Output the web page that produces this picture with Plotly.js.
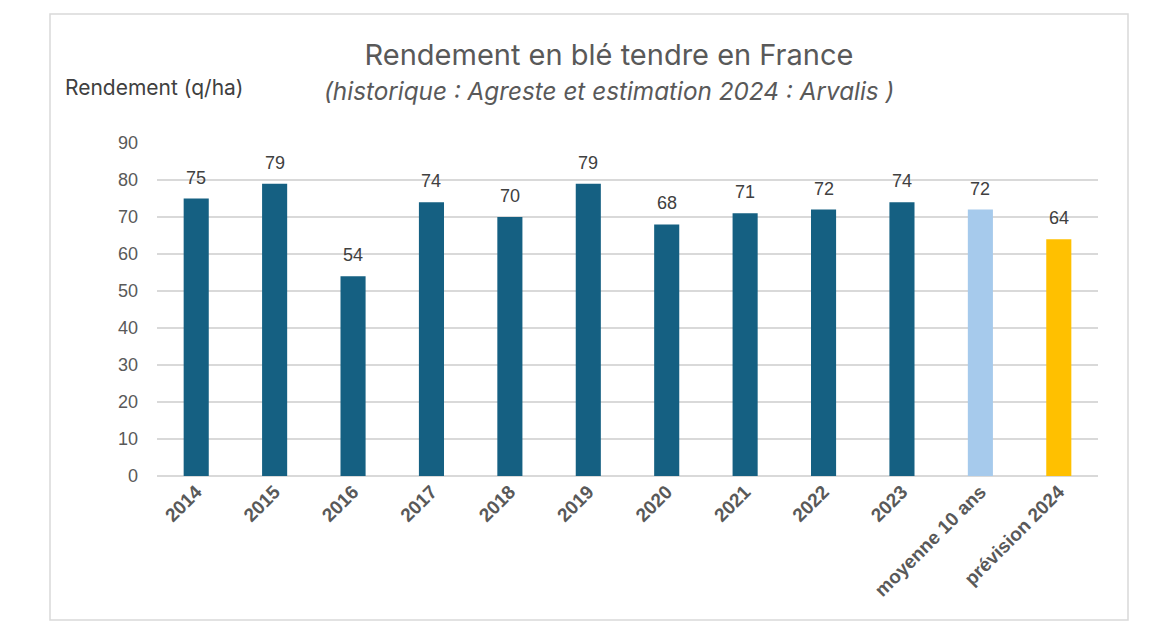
<!DOCTYPE html>
<html>
<head>
<meta charset="utf-8">
<script src="https://cdn.plot.ly/plotly-3.0.1.min.js"></script>
<style>
html,body{margin:0;padding:0;background:#fff;}
#chart{width:1159px;height:636px;}
</style>
</head>
<body>
<div id="chart"></div>
<script>
const categories = ["2014","2015","2016","2017","2018","2019","2020","2021","2022","2023","moyenne 10 ans","prévision 2024"];
const values = [75, 79, 54, 74, 70, 79, 68, 71, 72, 74, 72, 64];
const barColors = ["#156082","#156082","#156082","#156082","#156082","#156082","#156082","#156082","#156082","#156082","#A6CAEC","#FFC000"];
const yTicks = [0,10,20,30,40,50,60,70,80,90];

const trace = {
  type: "bar",
  x: categories,
  y: values,
  marker: {color: barColors},
  hoverinfo: "x+y"
};

const labelAnnotations = categories.map((c, i) => ({
  x: i, y: values[i], xref: "x", yref: "y",
  text: String(values[i]), showarrow: false,
  yanchor: "bottom", yshift: 9,
  font: {family: "Liberation Sans, Arial, sans-serif", size: 18, color: "#404040"}
}));

const layout = {
  width: 1159, height: 636,
  margin: {l: 157, r: 61, t: 143, b: 160},
  paper_bgcolor: "#ffffff",
  plot_bgcolor: "#ffffff",
  bargap: 0.68,
  showlegend: false,
  title: {
    text: "Rendement en blé tendre en France",
    xref: "container", yref: "container",
    x: 609/1159, xanchor: "center",
    y: 1 - 55/636, yanchor: "middle",
    font: {family: "Inter, Lato, sans-serif", size: 29, color: "#595959"}
  },
  xaxis: {
    type: "category",
    range: [-0.5, categories.length - 0.5],
    autorange: false,
    tickangle: -45,
    tickfont: {family: "Liberation Sans, Arial, sans-serif", size: 19, color: "#595959", weight: "bold"},
    showgrid: false,
    showline: false,
    zeroline: false,
    ticks: ""
  },
  yaxis: {
    range: [0, 90],
    autorange: false,
    tickvals: yTicks,
    tickfont: {family: "Liberation Sans, Arial, sans-serif", size: 18, color: "#595959"},
    showgrid: true,
    gridcolor: "#d9d9d9",
    gridwidth: 1.3,
    zeroline: true,
    zerolinecolor: "#d9d9d9",
    zerolinewidth: 1.3,
    showline: false,
    ticks: "",
    ticklabelstandoff: 18
  },
  annotations: labelAnnotations.concat([
    {
      text: "<i>(historique : Agreste et estimation 2024 : Arvalis )</i>",
      xref: "paper", yref: "paper",
      x: (609-157)/941, y: (476-91)/333,
      xanchor: "center", yanchor: "middle", showarrow: false,
      font: {family: "Inter, Lato, sans-serif", size: 24.3, color: "#595959"}
    },
    {
      text: "Rendement (q/ha)",
      xref: "paper", yref: "paper",
      x: (63-157)/941, y: (476-87)/333,
      xanchor: "left", yanchor: "middle", showarrow: false,
      font: {family: "Inter, Lato, sans-serif", size: 21, color: "#404040"}
    }
  ]),
  shapes: [{
    type: "rect", xref: "paper", yref: "paper",
    x0: (50-157)/941, x1: (1128-157)/941,
    y0: (476-620)/333, y1: (476-14)/333,
    line: {color: "#d9d9d9", width: 1.5},
    fillcolor: "rgba(0,0,0,0)",
    layer: "below"
  }]
};

Plotly.newPlot("chart", [trace], layout, {displayModeBar: false, staticPlot: true});
</script>
</body>
</html>
